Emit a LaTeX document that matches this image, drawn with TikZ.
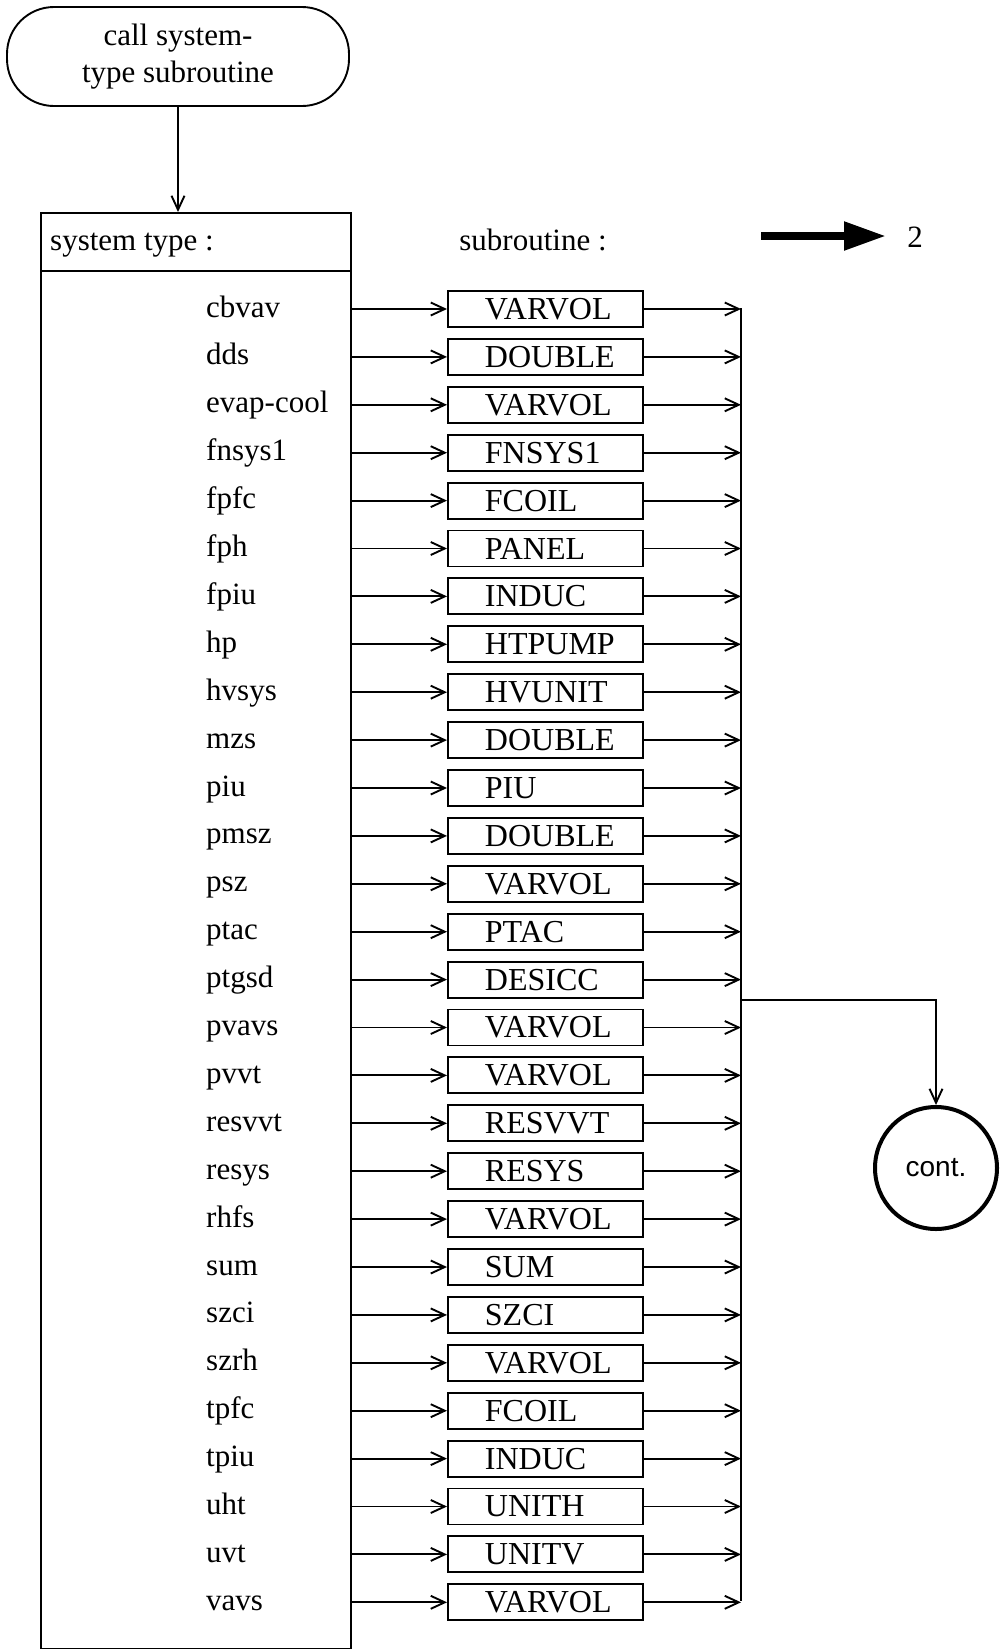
\documentclass[tikz,border=0pt]{standalone}
\usepackage{fontspec}
\setmainfont{Liberation Serif}
\newfontfamily\contfont{Liberation Sans}
\usetikzlibrary{arrows.meta,positioning}
\newcommand{\rowsize}{\fontsize{31}{37}\selectfont}
\tikzset{
 every node/.append style={font=\rowsize,text=black},
 frame/.style={draw,line width=1.9pt,inner sep=0pt},
 terminal/.style={frame,rounded corners=47pt,minimum width=342pt,minimum height=99pt,align=center},
 sysname/.style={anchor=base west,inner sep=0pt},
 subbox/.style={frame,anchor=west,minimum height=36pt,font=\fontsize{32}{37}\selectfont},
 link/.style={-{Straight Barb[length=14pt,width=13pt]},line width=1.9pt},
 bus/.style={line width=1.9pt},
 pointer/.style={-{Triangle[length=42pt,width=27pt]},line width=8pt},
 contcircle/.style={circle,draw,line width=4pt,minimum size=122pt,inner sep=0pt,font=\contfont\fontsize{28}{33}\selectfont},
}

\begin{document}
\begin{tikzpicture}[x=1pt,y=-1pt]

\useasboundingbox (0,0) rectangle (999,1649);
\node[terminal] (call) at (178,56.5) {call system-\\type subroutine};
\node[frame,anchor=north west,minimum width=310pt,minimum height=1436pt] (systype) at (40,212) {};
\draw[bus] ([yshift=-59pt]systype.north west) -- ([yshift=-59pt]systype.north east);
\draw[link] (call.south) -- (call.south |- systype.north);
\node[anchor=base west,inner sep=0pt] (systypehead) at (50,250) {system type :};
\node[anchor=base,inner sep=0pt] (subhead) at (533,250) {subroutine :};
\node[anchor=base,inner sep=0pt] (two) at (915,247) {2};
\coordinate (pointtail) at (761,236);
\draw[pointer,shorten >=21pt] (pointtail) -- (pointtail -| two.west);
\coordinate (bustop) at (741,308);
\coordinate (busbot) at (741,1601);
\draw[bus] (bustop) -- (busbot);
\foreach \sys/\sub [count=\i from 0] in {cbvav/VARVOL,dds/DOUBLE,evap-cool/VARVOL,fnsys1/FNSYS1,fpfc/FCOIL,fph/PANEL,fpiu/INDUC,hp/HTPUMP,hvsys/HVUNIT,mzs/DOUBLE,piu/PIU,pmsz/DOUBLE,psz/VARVOL,ptac/PTAC,ptgsd/DESICC,pvavs/VARVOL,pvvt/VARVOL,resvvt/RESVVT,resys/RESYS,rhfs/VARVOL,sum/SUM,szci/SZCI,szrh/VARVOL,tpfc/FCOIL,tpiu/INDUC,uht/UNITH,uvt/UNITV,vavs/VARVOL}{
 \node[sysname] (sys\i) at (206,317+47.9*\i) {\sys};
 \node[subbox] (sub\i) at (447,309+47.9*\i) {\makebox[195pt][l]{\hspace{37pt}\sub}};
 \draw[link] (systype.east |- sub\i.west) -- (sub\i.west);
 \draw[link] (sub\i.east) -- (sub\i.east -| bustop);
}
\node[contcircle] (cont) at (936,1168) {cont.};
\coordinate (split) at (741,1000);
\draw[link] (split) -| (cont.north);

\end{tikzpicture}
\end{document}
